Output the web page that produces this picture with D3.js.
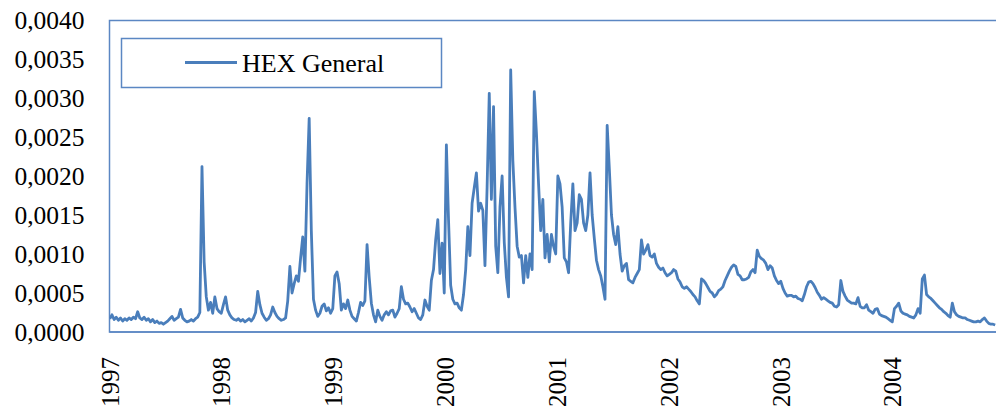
<!DOCTYPE html>
<html>
<head>
<meta charset="utf-8">
<script src="https://cdn.jsdelivr.net/npm/d3@7/dist/d3.min.js"></script>
<style>
  html, body { margin: 0; padding: 0; background: #ffffff; }
  svg { display: block; }
  text { font-family: "Liberation Serif", "Times New Roman", serif; fill: #000; }
</style>
</head>
<body>
<svg id="chart" width="996" height="414"></svg>
<script>
// ---- data (weekly readings, one array per year) ----
const seriesName = "HEX General";
const firstWeek = "1997-01-02";
const yearLabels = ["1997", "1998", "1999", "2000", "2001", "2002", "2003", "2004"];
const yTicks = [0, 0.0005, 0.001, 0.0015, 0.002, 0.0025, 0.003, 0.0035, 0.004];

const v1997 = [0.00017,0.00022,0.00016,0.00019,0.00015,0.00018,0.00014,0.00017,0.00015,0.00018,
  0.00016,0.00019,0.00017,0.00026,0.00018,0.00016,0.00019,0.00015,0.00017,0.00013,
  0.00016,0.00012,0.00014,0.00011,0.00012,0.0001,0.00012,0.00014,0.00017,0.0002,
  0.00015,0.00017,0.00019,0.00029,0.00018,0.00015,0.00013,0.00014,0.00016,0.00014,
  0.00017,0.00019,0.00025,0.00212,0.0009,0.00045,0.00028,0.00038,0.00024,0.00045,
  0.0003,0.00026];
const v1998 = [0.00024,0.00035,0.00045,0.00028,0.00022,0.00018,0.00016,0.00015,0.00017,0.00014,
  0.00016,0.00013,0.00015,0.00017,0.00014,0.00018,0.00025,0.00052,0.00035,0.00024,
  0.00019,0.00015,0.00017,0.00022,0.00032,0.00025,0.0002,0.00017,0.00015,0.00016,
  0.00018,0.0004,0.00084,0.0005,0.00062,0.00072,0.00065,0.00095,0.00122,0.00078,
  0.0019,0.00274,0.0013,0.00042,0.00028,0.0002,0.00024,0.00033,0.00036,0.00027,
  0.00031,0.00024];
const v1999 = [0.0003,0.00072,0.00077,0.00062,0.00028,0.00036,0.0003,0.00041,0.00028,0.0002,
  0.00017,0.00014,0.00025,0.00038,0.00034,0.0004,0.00112,0.0007,0.00037,0.00022,
  0.00013,0.00028,0.0002,0.00015,0.00022,0.00026,0.00022,0.00027,0.00028,0.00019,
  0.00024,0.0003,0.00058,0.00042,0.00036,0.00037,0.00032,0.00026,0.0003,0.00024,
  0.00018,0.00016,0.00022,0.00041,0.00033,0.00028,0.00066,0.0008,0.00118,0.00144,
  0.00075,0.00114];
const v2000 = [0.0005,0.0024,0.00144,0.0006,0.00042,0.00036,0.00037,0.00031,0.00028,0.00048,
  0.0008,0.00135,0.00098,0.00165,0.00185,0.00204,0.00155,0.00165,0.00156,0.00085,
  0.00186,0.00306,0.0017,0.00289,0.0011,0.00076,0.0016,0.002,0.00115,0.0007,
  0.00045,0.00336,0.0022,0.0016,0.0011,0.00096,0.00098,0.00063,0.00098,0.0007,
  0.001,0.0008,0.00308,0.00255,0.0019,0.0013,0.0017,0.00095,0.00125,0.0009,
  0.00125,0.0011];
const v2001 = [0.001,0.002,0.0019,0.0016,0.00095,0.0009,0.00076,0.0014,0.0019,0.0013,
  0.0014,0.00176,0.0017,0.0014,0.0013,0.0015,0.00204,0.0015,0.0012,0.00092,
  0.0008,0.00072,0.00058,0.00042,0.00265,0.0021,0.0015,0.00125,0.00112,0.00135,
  0.001,0.00078,0.00085,0.00088,0.00067,0.00065,0.00063,0.0007,0.00075,0.0008,
  0.00118,0.001,0.00105,0.00112,0.00098,0.00096,0.001,0.00088,0.00083,0.0008,
  0.00082,0.00076];
const v2002 = [0.00072,0.00074,0.00076,0.0008,0.00078,0.00068,0.00064,0.00058,0.00056,0.00058,
  0.00055,0.00052,0.00048,0.00045,0.0004,0.00036,0.00068,0.00066,0.00062,0.00057,
  0.00052,0.0005,0.00045,0.00048,0.00053,0.00055,0.00058,0.00066,0.00072,0.00078,
  0.00083,0.00086,0.00084,0.00074,0.00072,0.00067,0.00067,0.00068,0.0007,0.00077,
  0.0008,0.00076,0.00105,0.00097,0.00094,0.00092,0.00088,0.0008,0.00085,0.00082,
  0.00072,0.00066];
const v2003 = [0.00062,0.00065,0.00056,0.0005,0.00046,0.00047,0.00047,0.00045,0.00046,0.00043,
  0.00042,0.0004,0.00048,0.00058,0.00064,0.00065,0.00062,0.00057,0.00051,0.00047,
  0.00042,0.00044,0.00042,0.0004,0.00038,0.00037,0.00033,0.00032,0.00035,0.00066,
  0.00052,0.00046,0.00041,0.00039,0.00037,0.00037,0.00036,0.00044,0.00033,0.00031,
  0.00031,0.00035,0.00028,0.00026,0.00024,0.00029,0.0003,0.00023,0.00021,0.0002,
  0.00019,0.00017];
const v2004 = [0.00015,0.00013,0.0003,0.00033,0.00037,0.00027,0.00024,0.00023,0.00022,0.0002,
  0.00019,0.00018,0.00022,0.0003,0.00024,0.00068,0.00073,0.00048,0.00045,0.00043,
  0.0004,0.00037,0.00034,0.00031,0.00029,0.00026,0.00024,0.00021,0.00019,0.00037,
  0.00026,0.00022,0.0002,0.00019,0.00018,0.00018,0.00016,0.00015,0.00014,0.00013,
  0.00013,0.00014,0.00013,0.00016,0.00018,0.00014,0.00011,0.0001,0.0001,0.00009];

(function () {
  // ---- build table ----
  const allValues = [].concat(v1997, v1998, v1999, v2000, v2001, v2002, v2003, v2004);
  const start = d3.utcParse("%Y-%m-%d")(firstWeek);
  const data = allValues.map((v, i) => ({ date: d3.utcDay.offset(start, 7 * i), value: v }));
  const yearDates = yearLabels.map(yr => d3.utcParse("%Y")(yr));

  // ---- layout ----
  const color = "#4A7EBB";
  const frameColor = "#5B87C3";
  const plotLeft = 109.5, plotTop = 20, plotBottom = 332, yearPx = 111.86;

  const svg = d3.select("#chart");
  const x = d3.scaleUtc()
    .domain([d3.utcParse("%Y")("1997"), d3.utcParse("%Y")("2005")])
    .range([plotLeft, plotLeft + 8 * yearPx]);
  const y = d3.scaleLinear().domain([0, 0.004]).range([plotBottom, plotTop]);

  // plot frame
  svg.append("rect")
    .attr("x", plotLeft).attr("y", plotTop + 0.5)
    .attr("width", 1000 - plotLeft).attr("height", plotBottom - plotTop - 0.5)
    .attr("fill", "none").attr("stroke", frameColor).attr("stroke-width", 1.5);

  // y axis labels
  const fmt = d3.format(".4f");
  const yAxis = svg.append("g").attr("transform", `translate(${plotLeft},0)`)
    .call(d3.axisLeft(y).tickValues(yTicks).tickSize(0).tickPadding(25)
      .tickFormat(d => fmt(d).replace(".", ",")));
  yAxis.select(".domain").remove();
  yAxis.selectAll("text")
    .attr("font-family", "'Liberation Serif', 'Times New Roman', serif")
    .attr("font-size", 25.5).attr("fill", "#000").attr("dy", "0.33em");

  // x axis labels (rotated)
  const xAxis = svg.append("g").attr("transform", `translate(0,${plotBottom})`)
    .call(d3.axisBottom(x).tickValues(yearDates).tickSize(0).tickFormat(d3.utcFormat("%Y")));
  xAxis.select(".domain").remove();
  xAxis.selectAll("text")
    .attr("font-family", "'Liberation Serif', 'Times New Roman', serif")
    .attr("font-size", 25).attr("fill", "#000")
    .attr("transform", "rotate(-90)")
    .attr("text-anchor", "end")
    .attr("x", -25).attr("y", 8.5).attr("dy", 0);

  // bottom axis line
  svg.append("line")
    .attr("x1", plotLeft).attr("x2", 1000).attr("y1", plotBottom).attr("y2", plotBottom)
    .attr("stroke", frameColor).attr("stroke-width", 1.5);

  // series line
  svg.append("clipPath").attr("id", "clip").append("rect")
    .attr("x", plotLeft).attr("y", 0).attr("width", 1000).attr("height", plotBottom);
  svg.append("path")
    .datum(data)
    .attr("clip-path", "url(#clip)")
    .attr("fill", "none")
    .attr("stroke", color)
    .attr("stroke-width", 2.8)
    .attr("stroke-linejoin", "round")
    .attr("d", d3.line().x(d => x(d.date)).y(d => y(d.value)));

  // legend
  const lg = svg.append("g");
  lg.append("rect").attr("x", 121.5).attr("y", 38.5).attr("width", 320).attr("height", 49)
    .attr("fill", "#fff").attr("stroke", frameColor).attr("stroke-width", 1.5);
  lg.append("line").attr("x1", 185).attr("x2", 237).attr("y1", 62.5).attr("y2", 62.5)
    .attr("stroke", color).attr("stroke-width", 2.8);
  lg.append("text").attr("x", 242).attr("y", 72)
    .attr("font-size", 26).text(seriesName);
})();
</script>
</body>
</html>
